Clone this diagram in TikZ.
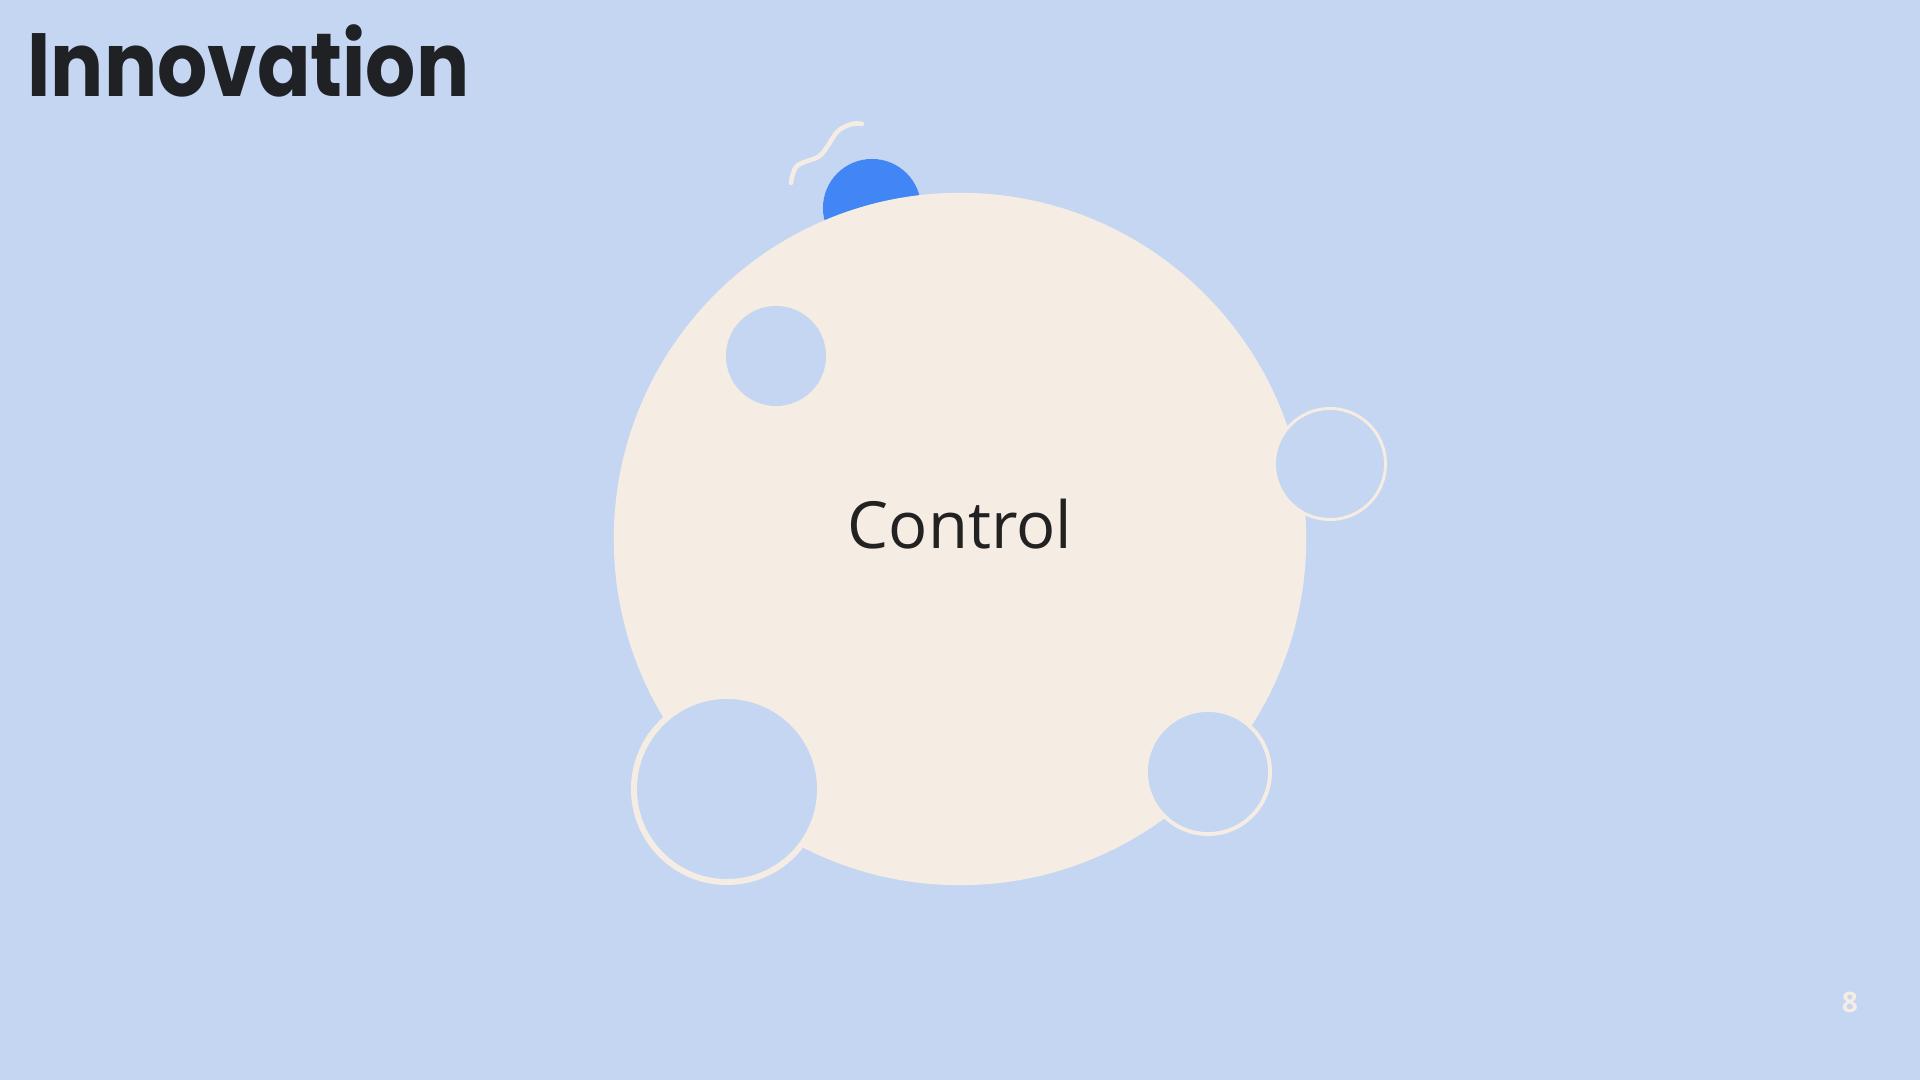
\documentclass[tikz,border=0pt]{standalone}
\usepackage{fontspec}
\setmainfont{Open Sans}
\newfontfamily\titlefont{Poppins}[UprightFont=* Bold]
\definecolor{bgblue}{HTML}{C5D6F2}
\definecolor{cream}{HTML}{F5EDE3}
\definecolor{accentblue}{HTML}{4285F4}
\definecolor{inkdark}{HTML}{202124}
\definecolor{textdark}{HTML}{222222}
\tikzset{
  disc/.style={circle, inner sep=0pt, outer sep=0pt},
  bigdisc/.style={disc, fill=cream},
  dot/.style={disc, fill=bgblue},
  ring/.style={disc, fill=bgblue, draw=cream},
  squiggle/.style={draw=cream, line width=1.3pt, line cap=round},
  heading/.style={font=\titlefont\fontsize{25.5}{30}\selectfont, text=inkdark, inner sep=0pt},
  centrelbl/.style={font=\fontsize{18.5}{22}\selectfont, text=textdark, inner sep=0pt},
  pagelbl/.style={font=\bfseries\fontsize{8}{10}\selectfont, text=cream, inner sep=0pt}
}

\begin{document}
\begin{tikzpicture}[x=0.01cm, y=-0.01cm]

%% Canvas
\fill[bgblue] (0,0) rectangle (1920,1080);
\useasboundingbox (0,0) rectangle (1920,1080);

%% Title
\node[heading, anchor=base west] (title) at (27,97) {\scalebox{0.88}[1]{Innovation}};

%% Blue cap behind the main disc
\node[disc, fill=accentblue, minimum size=0.98cm] (cap) at (872,208) {};
\draw[squiggle] plot[smooth, tension=0.6] coordinates
  {(791,183) (797,166) (818,157) (827,147) (838,131) (852,124) (862,124)};

%% Main disc
\node[bigdisc, minimum size=6.92cm] (main) at (960,539) {};
\node[centrelbl, anchor=base] (control) at (960,549) {Control};

%% Holes and rings
\node[dot, minimum size=1.00cm] (holeNW) at (776,356) {};
\node[ring, line width=0.85pt, minimum size=1.11cm] (ringE) at (1330,464) {};
\node[ring, line width=1.7pt, minimum size=1.86cm] (ringSW) at (727,789) {};
\node[ring, line width=1.1pt, minimum size=1.24cm] (ringSE) at (1208,772) {};

%% Page number
\node[pagelbl, anchor=base] (pagenum) at (1850,1013) {8};

\end{tikzpicture}
\end{document}
